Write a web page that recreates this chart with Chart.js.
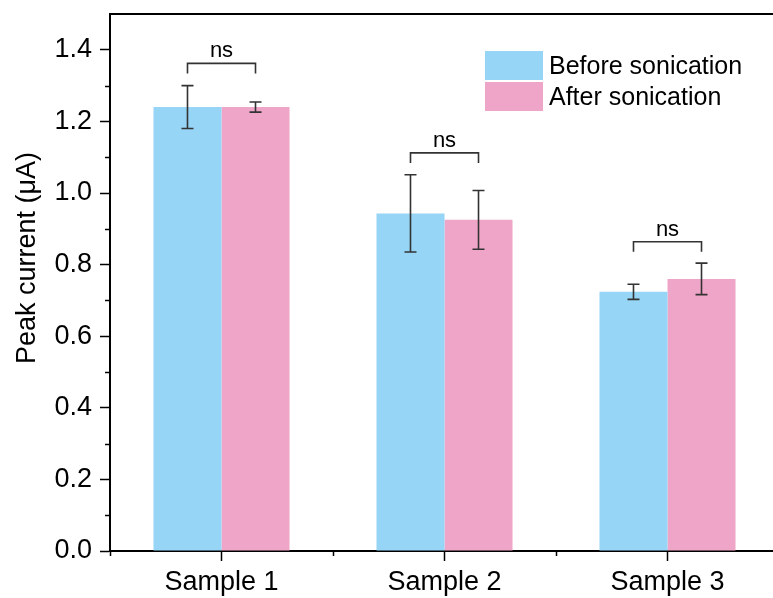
<!DOCTYPE html>
<html>
<head>
<meta charset="utf-8">
<script src="https://cdn.jsdelivr.net/npm/chart.js@4.4.1/dist/chart.umd.min.js"></script>
<style>
  html, body { margin: 0; padding: 0; background: #fff; overflow: hidden; width: 773px; height: 598px; }
  #wrap { position: relative; width: 773px; height: 598px; overflow: hidden; }
  #c { position: absolute; left: 0; top: 0; }
  #legend { position: absolute; left: 485px; top: 51px; font-family: "Liberation Sans", Arial, sans-serif; font-size: 25px; color: #000; }
  .li { display: flex; align-items: center; height: 29px; margin-bottom: 2px; }
  .sw { width: 58px; height: 29px; margin-right: 6px; }
</style>
</head>
<body>
<div id="wrap">
  <canvas id="c" width="790" height="598"></canvas>
  <div id="legend"></div>
</div>
<script>
// ---- data ----
const categories = ['Sample 1', 'Sample 2', 'Sample 3'];
const seriesNames = ['Before sonication', 'After sonication'];
const beforeValues = [1.240, 0.943, 0.724];
const afterValues  = [1.240, 0.925, 0.760];
const beforeErrors = [0.060, 0.108, 0.021];
const afterErrors  = [0.014, 0.082, 0.044];
const bracketLevels = [1.362, 1.112, 0.864];
const bracketLabels = ['ns', 'ns', 'ns'];
const yTitle = 'Peak current (μA)';
const yMin = 0, yMax = 1.5, yMajorStep = 0.2, yLabelMax = 1.4;

const FONT = '"Liberation Sans", Arial, sans-serif';
const colors = ['#96D5F5', '#EFA5C7'];
const errColor = '#333333';

const overlay = {
  id: 'overlay',
  afterDatasetsDraw(chart) {
    const ctx = chart.ctx;
    const y = chart.scales.y;
    const errs = [beforeErrors, afterErrors];
    ctx.save();
    ctx.strokeStyle = errColor;
    ctx.lineWidth = 1.6;
    [0, 1].forEach(di => {
      const meta = chart.getDatasetMeta(di);
      meta.data.forEach((bar, j) => {
        const v = chart.data.datasets[di].data[j];
        const e = errs[di][j];
        const yt = y.getPixelForValue(v + e);
        const yb = y.getPixelForValue(v - e);
        const x = bar.x;
        const cw = 6;
        ctx.beginPath();
        ctx.moveTo(x, yt); ctx.lineTo(x, yb);
        ctx.moveTo(x - cw, yt); ctx.lineTo(x + cw, yt);
        ctx.moveTo(x - cw, yb); ctx.lineTo(x + cw, yb);
        ctx.stroke();
      });
    });
    const m0 = chart.getDatasetMeta(0), m1 = chart.getDatasetMeta(1);
    ctx.fillStyle = '#000';
    ctx.font = '22px ' + FONT;
    ctx.textAlign = 'center';
    ctx.textBaseline = 'alphabetic';
    bracketLevels.forEach((lv, j) => {
      const x0 = m0.data[j].x, x1 = m1.data[j].x;
      const yy = y.getPixelForValue(lv);
      ctx.beginPath();
      ctx.moveTo(x0, yy + 10); ctx.lineTo(x0, yy); ctx.lineTo(x1, yy); ctx.lineTo(x1, yy + 10);
      ctx.stroke();
      ctx.fillText(bracketLabels[j], (x0 + x1) / 2, yy - 6);
    });
    ctx.restore();
  },
  afterDraw(chart) {
    const ctx = chart.ctx;
    const y = chart.scales.y, x = chart.scales.x;
    const area = chart.chartArea;
    ctx.save();
    ctx.strokeStyle = '#000';
    ctx.lineWidth = 1.5;
    for (let v = yMin + yMajorStep / 2; v < yLabelMax; v += yMajorStep) {
      const py = Math.round(y.getPixelForValue(v)) + 0.5;
      ctx.beginPath(); ctx.moveTo(area.left - 5, py); ctx.lineTo(area.left, py); ctx.stroke();
    }
    for (let i = -0.5; i < categories.length; i += 1) {
      const px = Math.round(x.getPixelForValue(i)) + 0.5;
      ctx.beginPath(); ctx.moveTo(px, area.bottom); ctx.lineTo(px, area.bottom + 5); ctx.stroke();
    }
    ctx.fillStyle = '#000';
    ctx.font = '27px ' + FONT;
    ctx.textAlign = 'center';
    ctx.textBaseline = 'alphabetic';
    ctx.translate(35, 258);
    ctx.rotate(-Math.PI / 2);
    ctx.fillText(yTitle, 0, 0);
    ctx.restore();
  }
};

const chart = new Chart(document.getElementById('c'), {
  type: 'bar',
  data: {
    labels: categories,
    datasets: [
      { label: seriesNames[0], data: beforeValues, backgroundColor: colors[0], borderWidth: 0 },
      { label: seriesNames[1], data: afterValues, backgroundColor: colors[1], borderWidth: 0 }
    ]
  },
  options: {
    responsive: false,
    animation: false,
    layout: { padding: { left: 0, right: 11, top: 14, bottom: 0 } },
    datasets: { bar: { categoryPercentage: 0.61, barPercentage: 1.0 } },
    plugins: {
      legend: { display: false },
      tooltip: { enabled: false }
    },
    scales: {
      x: {
        type: 'category',
        position: 'bottom',
        offset: true,
        z: 1,
        border: { display: true, color: '#000', width: 2 },
        grid: { display: true, offset: false, drawOnChartArea: false, drawTicks: true, tickLength: 10, tickWidth: 1.5, tickColor: '#000' },
        ticks: { color: '#000', font: { family: FONT, size: 27 }, padding: 5, maxRotation: 0 },
        afterFit(s) { s.height = 47; s.paddingLeft = 0; s.paddingRight = 0; }
      },
      xTop: {
        type: 'category',
        position: 'top',
        labels: categories,
        z: 1,
        border: { display: true, color: '#000', width: 2 },
        grid: { display: false, drawTicks: false },
        ticks: { display: false },
        afterFit(s) { s.height = 0; s.paddingLeft = 0; s.paddingRight = 0; }
      },
      y: {
        min: yMin, max: yMax,
        z: 1,
        border: { display: true, color: '#000', width: 2 },
        grid: { display: true, drawOnChartArea: false, drawTicks: true, tickLength: 10, tickWidth: 1.5, tickColor: '#000' },
        ticks: {
          stepSize: yMajorStep,
          color: '#000',
          font: { family: FONT, size: 27 },
          padding: 8,
          callback: v => Number(v).toFixed(1)
        },
        afterBuildTicks(s) { s.ticks = s.ticks.filter(t => t.value <= yLabelMax + 1e-9); },
        afterFit(s) { s.width = 110; s.paddingTop = 0; s.paddingBottom = 0; }
      }
    }
  },
  plugins: [overlay]
});

const legendEl = document.getElementById('legend');
Chart.defaults.plugins.legend.labels.generateLabels(chart).forEach(item => {
  const row = document.createElement('div'); row.className = 'li';
  const sw = document.createElement('span'); sw.className = 'sw'; sw.style.background = item.fillStyle;
  const tx = document.createElement('span'); tx.textContent = item.text;
  row.appendChild(sw); row.appendChild(tx); legendEl.appendChild(row);
});
</script>
</body>
</html>
